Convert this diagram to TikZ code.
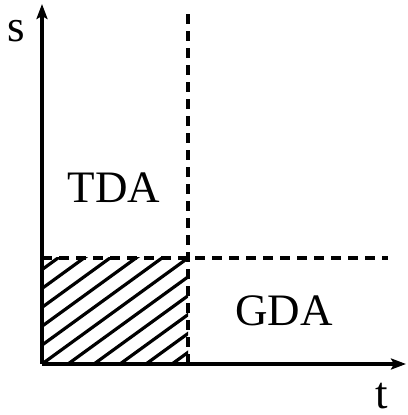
\documentclass[tikz,border=0pt]{standalone}
\usepackage{fontspec}
\setmainfont{Liberation Serif}
\usetikzlibrary{arrows.meta}
\newcommand{\labelfont}{\fontsize{45}{54}\selectfont}

\begin{document}
\begin{tikzpicture}[x=1pt, y=1pt,
    axis/.style={line width=3.8pt, -{Stealth[length=15pt, width=11pt, inset=3pt]}},
    border/.style={line width=3.4pt, dash pattern=on 10pt off 7pt},
    hatch/.style={line width=3.2pt},
    lbl/.style={font=\labelfont, anchor=base, inner sep=0pt}
]
  \useasboundingbox (-42,-51) rectangle (365,364);

  % Punkte
  \coordinate (O) at (0,0);
  \coordinate (ymax) at (0,360);
  \coordinate (xmax) at (364,0);
  \coordinate (vtop) at (146,354);
  \coordinate (vbot) at (146,0);
  \coordinate (hleft) at (0,106);
  \coordinate (hright) at (346,106);

  % Schraffur
  \begin{scope}
    \clip (O) rectangle (146,106);
    \foreach \k in {-6,...,6}
      \draw[hatch] ({\k*26},0) -- ++(200,145.2);
  \end{scope}

  % Grenzen
  \draw[border] (vbot) -- (vtop);
  \draw[border] (hleft) -- (hright);

  % Achsen
  \draw[axis] (O) -- (ymax);
  \draw[axis] (O) -- (xmax);

  % Labels
  \node[lbl] (s) at (-26,322) {s};
  \node[lbl] (t) at (340,-45) {t};
  \node[lbl] (tda) at (72,161) {TDA};
  \node[lbl] (gda) at (242,38) {GDA};

\end{tikzpicture}
\end{document}
